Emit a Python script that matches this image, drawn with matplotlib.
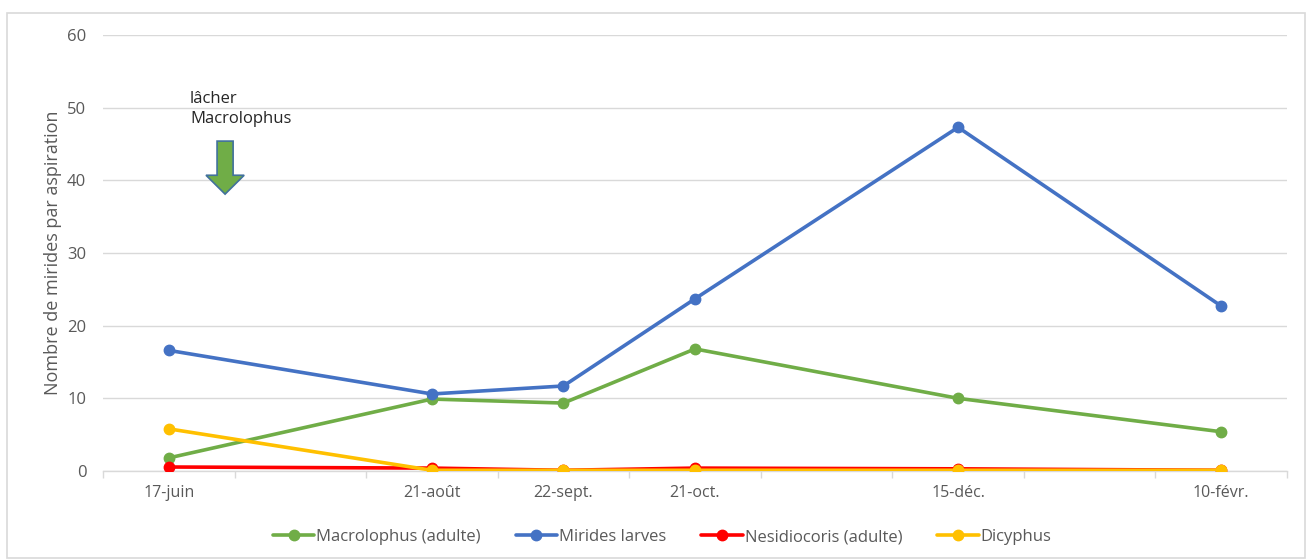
import matplotlib
matplotlib.use("Agg")
import matplotlib.pyplot as plt
import matplotlib.patches as mpatches
import numpy as np

plt.rcParams['font.family'] = ['Open Sans', 'DejaVu Sans']

categories = ['17-juin', '', '21-août', '22-sept.', '21-oct.', '', '15-déc.', '', '10-févr.']
macrolophus = [1.8, None, 9.9, 9.35, 16.8, None, 10.0, None, 5.4]
mirides_larves = [16.6, None, 10.6, 11.7, 23.7, None, 47.3, None, 22.7]
nesidiocoris = [0.55, None, 0.4, 0.1, 0.4, None, 0.3, None, 0.1]
dicyphus = [5.8, None, 0.1, 0.1, 0.1, None, 0.1, None, 0.1]

series = [
    ('Macrolophus (adulte)', macrolophus, '#70ad47'),
    ('Mirides larves', mirides_larves, '#4472c4'),
    ('Nesidiocoris (adulte)', nesidiocoris, '#ff0000'),
    ('Dicyphus', dicyphus, '#ffc000'),
]

fig = plt.figure(figsize=(13.09, 5.6), dpi=100)
ax = fig.add_axes([103/1309, 1-471/560, (1287-103)/1309, (471-35)/560])

# chart border
fig.patches.append(mpatches.Rectangle((7/1309, 2/560), 1298/1309, 545/560,
                                      transform=fig.transFigure, fill=False,
                                      edgecolor='#d9d9d9', linewidth=1.2))

for name, vals, col in series:
    xs = [i for i, v in enumerate(vals) if v is not None]
    ys = [v for v in vals if v is not None]
    ax.plot(xs, ys, color=col, linewidth=2.6, marker='o', markersize=7.5,
            label=name, solid_capstyle='round', zorder=3)

ax.set_xlim(-0.5, len(categories) - 0.5)
ax.set_ylim(0, 60)
ax.set_yticks(np.arange(0, 61, 10))
ax.grid(axis='y', color='#d9d9d9', linewidth=1)
ax.set_axisbelow(True)

ax.set_xticks(np.arange(-0.5, len(categories), 1.0))
ax.set_xticklabels([])
ax.set_xticks(np.arange(len(categories)), minor=True)
ax.set_xticklabels(categories, minor=True)
ax.tick_params(axis='x', which='major', length=5, color='#d9d9d9', width=1)
ax.tick_params(axis='x', which='minor', length=0, pad=10, labelsize=11.5, labelcolor='#595959')
ax.tick_params(axis='y', length=0, pad=12, labelsize=12, labelcolor='#595959')

for s in ['top', 'right', 'left']:
    ax.spines[s].set_visible(False)
ax.spines['bottom'].set_color('#d9d9d9')
ax.spines['bottom'].set_linewidth(1)

ax.set_ylabel('Nombre de mirides par aspiration', fontsize=13, color='#595959', labelpad=4)

# annotation
ax.text(0.162, 49.8, 'lâcher\nMacrolophus', fontsize=12, color='#262626',
        ha='left', va='center', linespacing=1.3)
arrow = mpatches.FancyArrow(0.428, 45.4, 0, -(45.4 - 38.1), width=0.122,
                            head_width=0.29, head_length=2.6,
                            length_includes_head=True,
                            facecolor='#70ad47', edgecolor='#41719c', linewidth=1.2,
                            zorder=4)
ax.add_patch(arrow)

leg = fig.legend(loc='center', bbox_to_anchor=(662/1309, 1-537/560), ncol=4,
                 frameon=False, fontsize=12, handlelength=2.5, columnspacing=2.1,
                 handletextpad=0.1)
for t in leg.get_texts():
    t.set_color('#595959')

fig.savefig('out.png', dpi=100)
